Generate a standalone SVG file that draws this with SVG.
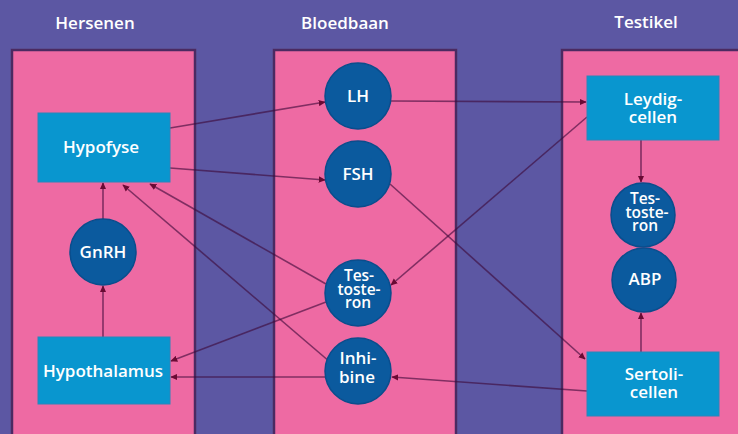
<svg xmlns="http://www.w3.org/2000/svg" width="738" height="434" viewBox="0 0 738 434">
  <defs>
    <marker id="arrow" viewBox="0 0 10 10" refX="9" refY="5" markerWidth="7" markerHeight="7" markerUnits="userSpaceOnUse" orient="auto">
      <path d="M0,0.5 L10,5 L0,9.5 Z" fill="#6a0a34"/>
    </marker>
    <filter id="soft" x="-5%" y="-5%" width="110%" height="110%">
      <feGaussianBlur stdDeviation="0.6"/>
    </filter>
  </defs>
  <style>
    .panel { fill: #ee6aa3; stroke: #4c2c62; stroke-width: 2.5; }
    .title { font-family: "Open Sans", "Noto Sans", sans-serif; font-weight: 600; font-size: 17px; fill: #ffffff; text-anchor: middle; }
    .box { fill: #0996cf; stroke: #2a86ba; stroke-width: 1; }
    .hormone { fill: #0b5a9e; stroke: #0a4d8c; stroke-width: 1.5; }
    .label { font-family: "Open Sans", "Noto Sans", sans-serif; font-weight: 600; font-size: 17px; fill: #ffffff; text-anchor: middle; }
    .tight { font-size: 15.5px; }
    .link { fill: none; stroke: #3d0a3a; stroke-opacity: 0.62; stroke-width: 1.6; marker-end: url(#arrow); }
  </style>

  <!-- background -->
  <rect x="0" y="0" width="738" height="434" fill="#5c57a3"/>

  <!-- compartments -->
  <g id="compartments" filter="url(#soft)">
    <rect class="panel" x="12" y="50" width="183" height="400"/>
    <rect class="panel" x="274" y="50" width="182" height="400"/>
    <rect class="panel" x="562" y="50" width="190" height="400"/>
  </g>
  <g id="titles">
    <text class="title" x="95" y="29">Hersenen</text>
    <text class="title" x="345" y="29">Bloedbaan</text>
    <text class="title" x="646" y="28">Testikel</text>
  </g>

  <!-- connectors -->
  <g id="connectors">
    <line class="link" x1="170" y1="128" x2="325" y2="102"/>
    <line class="link" x1="170" y1="168" x2="325" y2="180"/>
    <line class="link" x1="391" y1="101" x2="586" y2="102"/>
    <line class="link" x1="390" y1="184" x2="585" y2="359"/>
    <line class="link" x1="587" y1="117" x2="391" y2="285"/>
    <line class="link" x1="641" y1="140" x2="641" y2="182"/>
    <line class="link" x1="641" y1="352" x2="641" y2="313"/>
    <line class="link" x1="587" y1="391" x2="392" y2="377"/>
    <line class="link" x1="326" y1="377" x2="171" y2="377"/>
    <line class="link" x1="326" y1="302" x2="171" y2="361"/>
    <line class="link" x1="326" y1="284" x2="150" y2="184"/>
    <line class="link" x1="330" y1="362" x2="123" y2="185"/>
    <line class="link" x1="103" y1="337" x2="103" y2="286"/>
    <line class="link" x1="103" y1="219" x2="103" y2="183"/>
  </g>

  <!-- brain -->
  <g id="hypofyse">
    <rect class="box" x="38" y="113" width="132" height="69"/>
    <text class="label" x="101" y="153" font-size="18">Hypofyse</text>
  </g>
  <g id="gnrh">
    <circle class="hormone" cx="103" cy="252" r="33"/>
    <text class="label" x="103" y="258">GnRH</text>
  </g>
  <g id="hypothalamus">
    <rect class="box" x="38" y="337" width="132" height="67"/>
    <text class="label" x="103" y="377">Hypothalamus</text>
  </g>

  <!-- blood -->
  <g id="lh">
    <circle class="hormone" cx="358" cy="96" r="33"/>
    <text class="label" x="358" y="102">LH</text>
  </g>
  <g id="fsh">
    <circle class="hormone" cx="358" cy="174" r="33"/>
    <text class="label" x="358" y="180">FSH</text>
  </g>
  <g id="testosteron-bloed">
    <circle class="hormone" cx="358" cy="293" r="33"/>
    <text class="label tight"><tspan x="359" y="281">Tes-</tspan><tspan x="359" y="294.5">toste-</tspan><tspan x="358" y="308">ron</tspan></text>
  </g>
  <g id="inhibine">
    <circle class="hormone" cx="358" cy="371" r="33"/>
    <text class="label"><tspan x="358" y="364">Inhi-</tspan><tspan x="357" y="383">bine</tspan></text>
  </g>

  <!-- testis -->
  <g id="leydigcellen">
    <rect class="box" x="587" y="76" width="132" height="64"/>
    <text class="label"><tspan x="653" y="105">Leydig-</tspan><tspan x="653" y="123">cellen</tspan></text>
  </g>
  <g id="testosteron-testikel">
    <circle class="hormone" cx="643" cy="215" r="32"/>
    <text class="label tight"><tspan x="645" y="204">Tes-</tspan><tspan x="647" y="217.5">toste-</tspan><tspan x="645" y="231">ron</tspan></text>
  </g>
  <g id="abp">
    <circle class="hormone" cx="644" cy="280" r="32"/>
    <text class="label" x="645" y="285">ABP</text>
  </g>
  <g id="sertolicellen">
    <rect class="box" x="587" y="352" width="132" height="64"/>
    <text class="label"><tspan x="654" y="380">Sertoli-</tspan><tspan x="654" y="398">cellen</tspan></text>
  </g>
</svg>
